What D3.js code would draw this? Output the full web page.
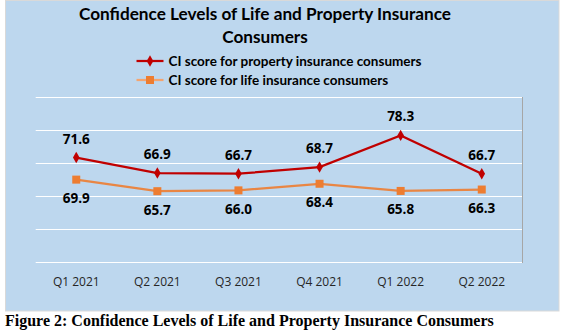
<!DOCTYPE html>
<html>
<head>
<meta charset="utf-8">
<script src="https://cdn.jsdelivr.net/npm/d3@7"></script>
<style>
  body { margin: 0; background: #fff; }
  svg { display: block; }
</style>
</head>
<body>
<div id="container"></div>
<script>
const quarters = ["Q1 2021", "Q2 2021", "Q3 2021", "Q4 2021", "Q1 2022", "Q2 2022"];
const propertyScores = [71.6, 66.9, 66.7, 68.7, 78.3, 66.7];
const lifeScores = [69.9, 65.7, 66.0, 68.4, 65.8, 66.3];
const primaryTicks = [40, 50, 60, 70, 80, 90];

const width = 565,
  height = 334;
const plot = { left: 35.7, right: 522.3, top: 96.7, bottom: 262 };

const red = "#C00000",
  orange = "#ED7D31";

const svg = d3
  .select("#container")
  .append("svg")
  .attr("width", width)
  .attr("height", height);

// chart area
svg
  .append("rect")
  .attr("x", 5.5)
  .attr("y", 0.5)
  .attr("width", 553.5)
  .attr("height", 310.5)
  .attr("fill", "#BDD7EE")
  .attr("stroke", "#D9D9D9");

const xScale = d3
  .scaleBand()
  .domain(quarters)
  .range([plot.left, plot.right])
  .padding(0);
const cx = (q) => xScale(q) + xScale.bandwidth() / 2;

// property on the primary axis, life on a hidden secondary axis
const yProp = d3.scaleLinear().domain([40, 90]).range([plot.bottom, plot.top]);
const yLife = d3.scaleLinear().domain([40, 100]).range([plot.bottom, plot.top]);

svg
  .append("g")
  .attr("class", "grid")
  .selectAll("line")
  .data(primaryTicks)
  .enter()
  .append("line")
  .attr("x1", plot.left)
  .attr("x2", plot.right)
  .attr("y1", (d) => Math.round(yProp(d)) + 0.5)
  .attr("y2", (d) => Math.round(yProp(d)) + 0.5)
  .attr("stroke", "#fff")
  .attr("stroke-width", 1);

svg
  .append("line")
  .attr("x1", Math.round(plot.right) + 0.5)
  .attr("x2", Math.round(plot.right) + 0.5)
  .attr("y1", Math.round(plot.top))
  .attr("y2", Math.round(plot.bottom) + 1)
  .attr("stroke", "#A6A6A6");

// category labels
const xAxis = d3.axisBottom(xScale).tickSize(0).tickPadding(0);
svg
  .append("g")
  .attr("transform", `translate(0, ${plot.bottom + 15})`)
  .call(xAxis)
  .call((g) => g.select(".domain").remove())
  .selectAll("text")
  .attr("font-family", "'Open Sans', sans-serif")
  .attr("font-size", 12)
  .attr("fill", "#262626");

const lifeData = quarters.map((q, i) => ({ q, v: lifeScores[i] }));
const propData = quarters.map((q, i) => ({ q, v: propertyScores[i] }));

const lifeLine = d3
  .line()
  .x((d) => cx(d.q))
  .y((d) => yLife(d.v));
const propLine = d3
  .line()
  .x((d) => cx(d.q))
  .y((d) => yProp(d.v));

svg
  .append("path")
  .datum(lifeData)
  .attr("d", lifeLine)
  .attr("fill", "none")
  .attr("stroke", orange)
  .attr("stroke-opacity", 0.9)
  .attr("stroke-width", 2.25);

svg
  .selectAll(".life-dot")
  .data(lifeData)
  .enter()
  .append("rect")
  .attr("class", "life-dot")
  .attr("x", (d) => cx(d.q) - 4)
  .attr("y", (d) => yLife(d.v) - 4)
  .attr("width", 8)
  .attr("height", 8)
  .attr("fill", orange);

svg
  .append("path")
  .datum(propData)
  .attr("d", propLine)
  .attr("fill", "none")
  .attr("stroke", red)
  .attr("stroke-width", 2.25);

const diamond = d3.symbol().type(d3.symbolDiamond).size(38);
svg
  .selectAll(".prop-dot")
  .data(propData)
  .enter()
  .append("path")
  .attr("class", "prop-dot")
  .attr("d", diamond)
  .attr("transform", (d) => `translate(${cx(d.q)}, ${yProp(d.v)})`)
  .attr("fill", red);

// value labels
const labelFont = "'Open Sans', sans-serif";
svg
  .selectAll(".prop-label")
  .data(propData)
  .enter()
  .append("text")
  .attr("class", "prop-label")
  .attr("x", (d) => cx(d.q))
  .attr("y", (d) => yProp(d.v) - 14)
  .attr("text-anchor", "middle")
  .attr("font-family", labelFont)
  .attr("font-weight", "bold")
  .attr("font-size", 13.5)
  .attr("fill", "#000")
  .text((d) => d.v.toFixed(1));

svg
  .selectAll(".life-label")
  .data(lifeData)
  .enter()
  .append("text")
  .attr("class", "life-label")
  .attr("x", (d) => cx(d.q))
  .attr("y", (d) => yLife(d.v) + 23.5)
  .attr("text-anchor", "middle")
  .attr("font-family", labelFont)
  .attr("font-weight", "bold")
  .attr("font-size", 13.5)
  .attr("fill", "#000")
  .text((d) => d.v.toFixed(1));

// title
const title = svg
  .append("text")
  .attr("text-anchor", "middle")
  .attr("font-family", "Lato, sans-serif")
  .attr("font-weight", "bold")
  .attr("font-size", 17.2)
  .attr("fill", "#000");
title.append("tspan").attr("x", 265).attr("y", 20).text("Confidence Levels of Life and Property Insurance");
title.append("tspan").attr("x", 265).attr("y", 43).text("Consumers");

// legend
const legendItems = [
  { label: "CI score for property insurance consumers", color: red, lineColor: red, shape: "diamond" },
  { label: "CI score for life insurance consumers", color: orange, lineColor: "#F4A46F", shape: "square" },
];
const legend = svg
  .append("g")
  .selectAll("g")
  .data(legendItems)
  .enter()
  .append("g")
  .attr("transform", (d, i) => `translate(136.5, ${61 + i * 19})`);
legend
  .append("line")
  .attr("x1", 0)
  .attr("x2", 27)
  .attr("stroke", (d) => d.lineColor)
  .attr("stroke-width", 2.25);
legend
  .filter((d) => d.shape === "diamond")
  .append("path")
  .attr("d", diamond)
  .attr("transform", "translate(13.5, 0)")
  .attr("fill", (d) => d.color);
legend
  .filter((d) => d.shape === "square")
  .append("rect")
  .attr("x", 9.5)
  .attr("y", -4)
  .attr("width", 8)
  .attr("height", 8)
  .attr("fill", (d) => d.color);
legend
  .append("text")
  .attr("x", 32)
  .attr("y", 4.5)
  .attr("font-family", "Lato, sans-serif")
  .attr("font-weight", "bold")
  .attr("font-size", 13.5)
  .attr("fill", "#000")
  .text((d) => d.label);

// caption under the chart
svg
  .append("text")
  .attr("x", 5)
  .attr("y", 325.5)
  .attr("font-family", "'Liberation Serif', 'Times New Roman', serif")
  .attr("font-weight", "bold")
  .attr("font-size", 16)
  .attr("fill", "#000")
  .text("Figure 2: Confidence Levels of Life and Property Insurance Consumers");
</script>
</body>
</html>
